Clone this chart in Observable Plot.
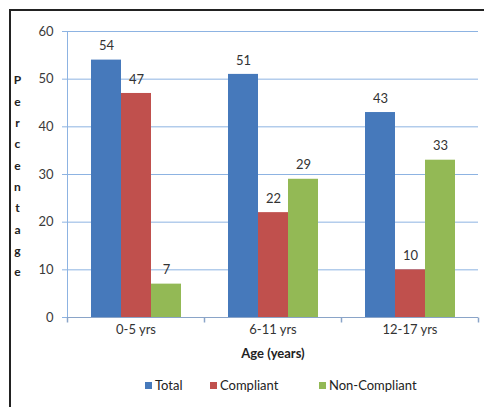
<!DOCTYPE html>
<html><head><meta charset="utf-8">
<script src="https://cdn.jsdelivr.net/npm/d3@7"></script>
<script src="https://cdn.jsdelivr.net/npm/@observablehq/plot@0.6"></script>
<style>
html,body{margin:0;padding:0;overflow:hidden;background:#fff;width:484px;height:407px;font-family:Lato,sans-serif}
#frame{position:absolute;left:9px;top:9px;width:520px;height:440px;border:2px solid #222;background:#fff}
#chart{position:absolute;left:0;top:0}
.leg{position:absolute;top:366px;font-size:13px;color:#222;white-space:nowrap;line-height:16px}
.leg i{display:inline-block;width:7px;height:7px;margin-right:3px;vertical-align:1px}
</style></head>
<body>
<div id="frame"><div id="chart"></div>
<div class="leg" style="left:134px"><i style="background:#4679bb"></i>Total</div>
<div class="leg" style="left:199px"><i style="background:#c0504d"></i>Compliant</div>
<div class="leg" style="left:308px"><i style="background:#93b955"></i>Non-Compliant</div>
</div>
<script>
const categories = ["0-5 yrs", "6-11 yrs", "12-17 yrs"];
const series = ["Total", "Compliant", "Non-Compliant"];
const total = [54, 51, 43];
const compliant = [47, 22, 10];
const nonCompliant = [7, 29, 33];
const yTicks = [0, 10, 20, 30, 40, 50, 60];
const colors = ["#4679bb", "#c0504d", "#93b955"];
const yLabel = "Percentage";
const xLabel = "Age (years)";

const values = [total, compliant, nonCompliant];
const rows = [];
categories.forEach((c, i) => series.forEach((s, j) => rows.push({age: c, series: s, value: values[j][i]})));

const tickSymbol = {draw(ctx, size) { ctx.moveTo(0, 0); ctx.lineTo(0, 5); }};
const gridColor = "#8db3e2";
const axisColor = "#8aa4c8";

const chart = Plot.plot({
  width: 473, height: 356,
  marginLeft: 56, marginRight: 6, marginTop: 20, marginBottom: 50,
  style: {fontFamily: "Lato", fontSize: "13px", color: "#3a3a3a", background: "transparent", overflow: "visible"},
  fx: {domain: categories, padding: 0, label: null, axis: null},
  x: {domain: series, paddingInner: 0, paddingOuter: 0.783, axis: null},
  y: {domain: [0, 60], axis: null},
  color: {domain: series, range: colors},
  marks: [
    Plot.gridY(yTicks, {stroke: gridColor, strokeOpacity: 1}),
    Plot.axisY(yTicks, {anchor: "left", tickSize: 5, tickPadding: 9, stroke: gridColor, label: null, fill: "#3a3a3a"}),
    Plot.frame({anchor: "left", facetAnchor: "left", stroke: gridColor}),
    Plot.barY(rows, {fx: "age", x: "series", y: "value", fill: "series"}),
    Plot.ruleY([0], {stroke: axisColor}),
    Plot.dot(categories, {fx: d => d, frameAnchor: "bottom-left", symbol: tickSymbol, stroke: axisColor, fill: "none"}),
    Plot.dot(categories.slice(-1), {fx: d => d, frameAnchor: "bottom-right", symbol: tickSymbol, stroke: axisColor, fill: "none"}),
    Plot.text(rows, {fx: "age", x: "series", y: "value", text: "value", dy: -14, fill: "#333"}),
    Plot.axisFx({anchor: "bottom", tickSize: 0, tickPadding: 7, label: null, fill: "#333"}),
    Plot.text([xLabel], {facet: "super", frameAnchor: "bottom", lineAnchor: "middle", textAnchor: "middle", dy: 36, fontWeight: "bold", fill: "#222"}),
    Plot.text([yLabel.split("").join("\n")], {facet: "super", frameAnchor: "left", lineAnchor: "middle", textAnchor: "middle", dx: -50, dy: -1, lineHeight: 1.78, fontSize: 12, fontWeight: "bold", fill: "#222"})
  ]
});
document.getElementById("chart").appendChild(chart);
</script>
</body></html>
